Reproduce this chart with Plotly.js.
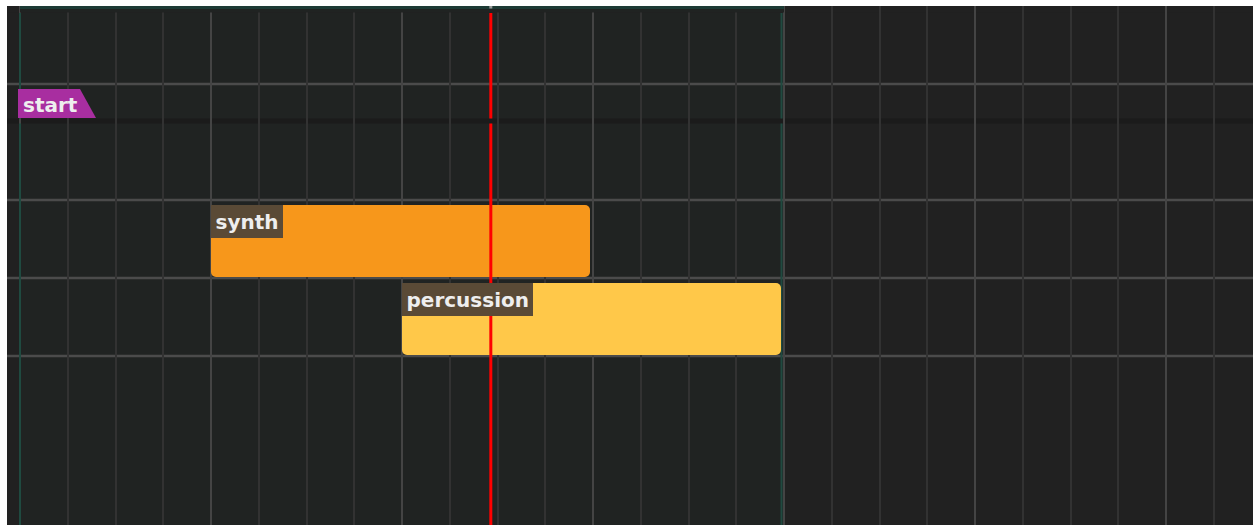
<!DOCTYPE html>
<html>
<head>
<meta charset="utf-8">
<script src="https://cdn.plot.ly/plotly-3.0.1.min.js"></script>
<style>
html,body{margin:0;padding:0;background:#fff;}
#chart{width:1253px;height:525px;}
</style>
</head>
<body>
<div id="chart"></div>
<script>
// ---- data ----
const regionNames  = ['synth', 'percussion'];
const regionTracks = [1, 2];          // track index (0 = first track lane)
const regionStart  = [4, 8];          // beats
const regionEnd    = [12, 16];        // beats
const regionColors = ['#F7971B', '#FFC849'];
const markerNames  = ['start'];
const markerBeats  = [0];
const markerColor  = '#A82EA0';
const loopStart = 0;
const loopEnd = 16;
const playhead = 9.86;
const trackCount = 3;

// ---- geometry (style) ----
const W = 1253, H = 525;
const ML = 7, MT = 6;
const originPx = 20, pxPerBeat = 47.75;
const trackTopPx = 122, rowPx = 78;
const u = p => (p - trackTopPx) / rowPx;          // page px -> y units
const bx = p => (p - originPx) / pxPerBeat;       // page px -> beats
const xRange = [bx(ML), bx(W)];
const yRange = [u(H), u(MT)];
const regionGap = 3 / pxPerBeat;                  // visual gap at region end

const shapes = [];
// loop background
shapes.push({type:'rect', xref:'x', yref:'paper', x0:loopStart, x1:loopEnd, y0:0, y1:1,
  fillcolor:'#202322', line:{width:0}, layer:'below'});
// top strip (no grid)
shapes.push({type:'rect', xref:'paper', yref:'y', x0:0, x1:1, y0:u(MT), y1:u(12.5),
  fillcolor:'#212121', line:{width:0}, layer:'between'});
shapes.push({type:'rect', xref:'x', yref:'y', x0:loopStart, x1:loopEnd, y0:u(MT), y1:u(12.5),
  fillcolor:'#202322', line:{width:0}, layer:'between'});
shapes.push({type:'rect', xref:'x', yref:'y', x0:loopStart, x1:loopEnd, y0:u(MT), y1:u(9),
  fillcolor:'#1d3b35', line:{width:0}, layer:'between'});
// horizontal lines: marker lane mid line + track bottoms
const hLines = [u(84)];
for (let i = 1; i <= trackCount; i++) hLines.push(i);
hLines.forEach(y => shapes.push({type:'line', xref:'paper', yref:'y', x0:0, x1:1, y0:y, y1:y,
  line:{color:'#4b4b4b', width:2.5}, layer:'between'}));
// separator between marker lane and tracks
shapes.push({type:'rect', xref:'paper', yref:'y', x0:0, x1:1, y0:u(118.5), y1:u(123.5),
  fillcolor:'#1b1b1b', line:{width:0}, layer:'between'});
// loop lines
[[loopStart, 0], [loopEnd, -2.5]].forEach(([xv, off]) => {
  shapes.push({type:'line', xref:'x', yref:'y', xsizemode:'pixel', xanchor:xv, x0:off, x1:off,
    y0:u(13), y1:u(118.5), line:{color:'#1f4a40', width:2}, layer:'between'});
  shapes.push({type:'line', xref:'x', yref:'y', xsizemode:'pixel', xanchor:xv, x0:off, x1:off,
    y0:u(123.5), y1:u(H), line:{color:'#1f4a40', width:2}, layer:'between'});
});
// markers (slanted flag)
markerBeats.forEach(m => {
  const x0 = m + bx(18), xt = m + bx(80), xb = m + bx(96);
  const yt = u(89), yb = u(118);
  shapes.push({type:'path', xref:'x', yref:'y',
    path:`M ${x0} ${yt} L ${xt} ${yt} L ${xb} ${yb} L ${x0} ${yb} Z`,
    fillcolor:markerColor, line:{width:0}, layer:'above'});
});
// playhead
shapes.push({type:'line', xref:'x', yref:'y', x0:playhead, x1:playhead, y0:u(13), y1:u(118.5),
  line:{color:'#ff0000', width:3}, layer:'above'});
shapes.push({type:'line', xref:'x', yref:'y', x0:playhead, x1:playhead, y0:u(123.5), y1:u(H),
  line:{color:'#ff0000', width:3}, layer:'above'});
shapes.push({type:'rect', xref:'x', yref:'y', xsizemode:'pixel', xanchor:playhead, x0:-1.5, x1:1.5,
  y0:u(MT), y1:u(8.5), fillcolor:'#9a9a9a', line:{width:0}, layer:'above'});

const labelFont = {family:'DejaVu Sans', size:20, color:'#eeeeee', weight:'bold'};
const annotations = [];
regionNames.forEach((n, i) => {
  annotations.push({x:regionStart[i], y:regionTracks[i] + 0.064, xref:'x', yref:'y',
    xanchor:'left', yanchor:'top', text:n, showarrow:false, bgcolor:'#5a4a36',
    borderpad:4.5, borderwidth:0, font:labelFont, align:'left'});
});
markerNames.forEach((n, i) => {
  annotations.push({x:markerBeats[i], y:(u(89)+u(118))/2, xref:'x', yref:'y',
    xanchor:'left', yanchor:'middle', xshift:1, yshift:-1, text:n, showarrow:false,
    font:labelFont});
});

const trace = {
  type:'bar', orientation:'h',
  y: regionTracks,
  base: regionStart,
  x: regionEnd.map((e, i) => e - regionStart[i] - regionGap),
  width: 0.923, offset: 0.064,
  marker:{color: regionColors, cornerradius:5, line:{width:0}},
  hoverinfo:'skip', showlegend:false
};

const layout = {
  width:W, height:H,
  margin:{l:ML, r:0, t:MT, b:0, pad:0},
  paper_bgcolor:'#ffffff', plot_bgcolor:'#212121',
  barmode:'overlay',
  showlegend:false,
  xaxis:{range:xRange, tick0:0, dtick:4, showgrid:true, gridcolor:'#444444', gridwidth:2,
    minor:{tick0:0, dtick:1, showgrid:true, gridcolor:'#323232', gridwidth:2},
    showticklabels:false, ticks:'', zeroline:false, showline:false, fixedrange:true},
  yaxis:{range:yRange, showgrid:false, zeroline:false, showticklabels:false, ticks:'',
    showline:false, fixedrange:true},
  shapes, annotations
};

Plotly.newPlot('chart', [trace], layout, {displayModeBar:false, staticPlot:true});
</script>
</body>
</html>
